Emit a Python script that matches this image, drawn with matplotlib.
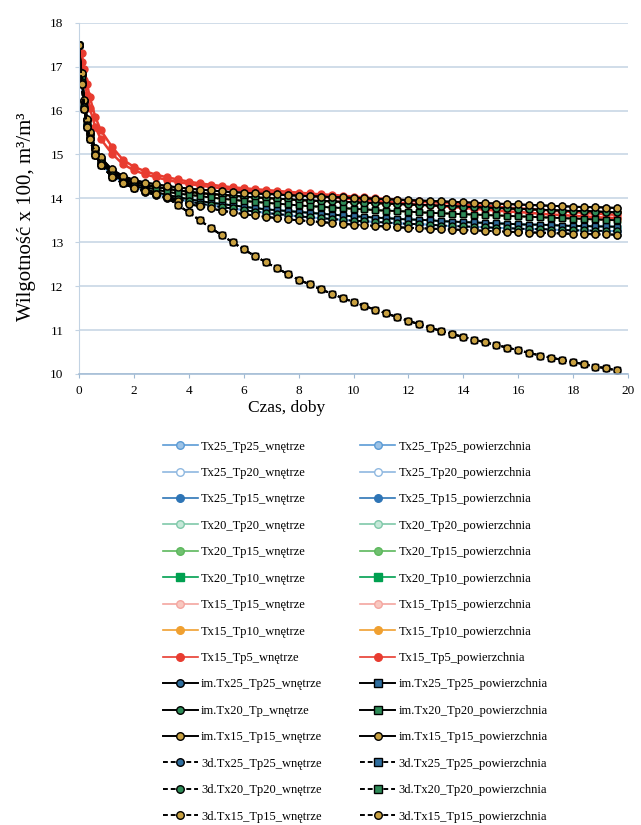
import matplotlib

matplotlib.use("Agg")
import matplotlib.pyplot as plt
from matplotlib.lines import Line2D

plt.rcParams["font.family"] = ["Liberation Serif", "DejaVu Serif"]

# czas, doby
czas = [0, 0.1, 0.2, 0.3, 0.4, 0.6, 0.8, 1.2, 1.6,
        2.0, 2.4, 2.8, 3.2, 3.6, 4.0, 4.4, 4.8, 5.2,
        5.6, 6.0, 6.4, 6.8, 7.2, 7.6, 8.0, 8.4, 8.8,
        9.2, 9.6, 10.0, 10.4, 10.8, 11.2, 11.6, 12.0, 12.4,
        12.8, 13.2, 13.6, 14.0, 14.4, 14.8, 15.2, 15.6, 16.0,
        16.4, 16.8, 17.2, 17.6, 18.0, 18.4, 18.8, 19.2, 19.6]

# wilgotnosc x 100 -- odczytane krzywe
krzywa_tp5 = [17.50, 17.30, 16.95, 16.60, 16.30, 15.85, 15.55, 15.18, 14.88,
              14.72, 14.62, 14.54, 14.48, 14.43, 14.38, 14.34, 14.31, 14.28,
              14.25, 14.23, 14.21, 14.19, 14.17, 14.15, 14.13, 14.11, 14.09,
              14.08, 14.06, 14.04, 14.02, 14.00, 13.99, 13.97, 13.95, 13.93,
              13.91, 13.90, 13.88, 13.86, 13.84, 13.83, 13.81, 13.79, 13.77,
              13.76, 13.74, 13.72, 13.70, 13.69, 13.67, 13.65, 13.64, 13.62]
krzywa_tp5_pow = [17.50, 17.10, 16.70, 16.35, 16.05, 15.62, 15.35, 15.02, 14.78,
                  14.64, 14.55, 14.48, 14.42, 14.37, 14.33, 14.29, 14.26, 14.23,
                  14.20, 14.18, 14.16, 14.14, 14.12, 14.10, 14.08, 14.06, 14.04,
                  14.02, 14.00, 13.98, 13.96, 13.94, 13.92, 13.90, 13.88, 13.86,
                  13.84, 13.82, 13.80, 13.78, 13.76, 13.74, 13.72, 13.70, 13.69,
                  13.67, 13.65, 13.63, 13.62, 13.60, 13.59, 13.57, 13.56, 13.55]
krzywa_gora = [17.50, 16.85, 16.25, 15.80, 15.50, 15.15, 14.93, 14.66, 14.51,
               14.42, 14.36, 14.32, 14.28, 14.25, 14.22, 14.20, 14.18, 14.16,
               14.14, 14.13, 14.11, 14.10, 14.09, 14.07, 14.06, 14.05, 14.04,
               14.03, 14.02, 14.01, 14.00, 13.99, 13.98, 13.97, 13.96, 13.95,
               13.94, 13.93, 13.92, 13.91, 13.90, 13.89, 13.88, 13.87, 13.86,
               13.85, 13.84, 13.83, 13.82, 13.81, 13.80, 13.80, 13.79, 13.78]
krzywa_c = [17.50, 16.80, 16.22, 15.78, 15.47, 15.12, 14.90, 14.62, 14.47,
            14.38, 14.31, 14.26, 14.22, 14.18, 14.15, 14.12, 14.10, 14.08,
            14.06, 14.04, 14.02, 14.01, 13.99, 13.98, 13.96, 13.95, 13.94,
            13.93, 13.92, 13.91, 13.90, 13.89, 13.88, 13.87, 13.86, 13.85,
            13.84, 13.83, 13.82, 13.81, 13.80, 13.79, 13.78, 13.77, 13.76,
            13.75, 13.74, 13.73, 13.72, 13.71, 13.71, 13.70, 13.69, 13.68]
krzywa_d = [17.50, 16.75, 16.18, 15.75, 15.44, 15.09, 14.87, 14.59, 14.44,
            14.34, 14.26, 14.20, 14.15, 14.11, 14.08, 14.05, 14.02, 13.99,
            13.97, 13.94, 13.92, 13.90, 13.88, 13.86, 13.84, 13.82, 13.81,
            13.79, 13.78, 13.76, 13.75, 13.73, 13.72, 13.71, 13.70, 13.68,
            13.67, 13.66, 13.65, 13.64, 13.63, 13.62, 13.61, 13.60, 13.59,
            13.58, 13.57, 13.56, 13.55, 13.54, 13.53, 13.52, 13.51, 13.50]
krzywa_e = [17.50, 16.70, 16.12, 15.70, 15.40, 15.05, 14.83, 14.55, 14.40,
            14.30, 14.21, 14.14, 14.08, 14.03, 13.98, 13.94, 13.90, 13.87,
            13.84, 13.81, 13.78, 13.75, 13.73, 13.71, 13.69, 13.67, 13.65,
            13.63, 13.61, 13.59, 13.58, 13.56, 13.55, 13.53, 13.52, 13.51,
            13.50, 13.48, 13.47, 13.46, 13.45, 13.44, 13.43, 13.42, 13.41,
            13.40, 13.40, 13.39, 13.38, 13.37, 13.37, 13.36, 13.36, 13.35]
krzywa_f = [17.50, 16.65, 16.08, 15.66, 15.37, 15.02, 14.80, 14.52, 14.37,
            14.27, 14.18, 14.10, 14.04, 13.98, 13.93, 13.88, 13.84, 13.80,
            13.77, 13.73, 13.70, 13.67, 13.64, 13.62, 13.59, 13.57, 13.55,
            13.53, 13.51, 13.49, 13.48, 13.46, 13.45, 13.43, 13.42, 13.41,
            13.40, 13.38, 13.37, 13.36, 13.35, 13.34, 13.33, 13.32, 13.31,
            13.30, 13.30, 13.29, 13.28, 13.27, 13.27, 13.26, 13.26, 13.25]
krzywa_dol = [17.50, 16.60, 16.04, 15.62, 15.34, 14.99, 14.77, 14.49, 14.34,
              14.24, 14.15, 14.07, 14.00, 13.94, 13.87, 13.82, 13.77, 13.72,
              13.68, 13.64, 13.61, 13.58, 13.55, 13.52, 13.50, 13.48, 13.46,
              13.44, 13.42, 13.40, 13.39, 13.37, 13.36, 13.34, 13.33, 13.32,
              13.31, 13.30, 13.29, 13.28, 13.27, 13.26, 13.25, 13.24, 13.23,
              13.22, 13.22, 13.21, 13.20, 13.19, 13.19, 13.18, 13.18, 13.17]
krzywa_3d_pow = [17.50, 16.60, 16.04, 15.62, 15.34, 14.99, 14.77, 14.49, 14.34,
                 14.24, 14.16, 14.09, 14.02, 13.85, 13.68, 13.50, 13.33, 13.16,
                 13.00, 12.84, 12.69, 12.55, 12.41, 12.28, 12.15, 12.04, 11.93,
                 11.83, 11.73, 11.64, 11.55, 11.46, 11.38, 11.29, 11.21, 11.13,
                 11.05, 10.98, 10.91, 10.84, 10.78, 10.72, 10.66, 10.60, 10.54,
                 10.48, 10.42, 10.37, 10.32, 10.27, 10.22, 10.17, 10.13, 10.08]

# (etykieta, dane, kolor linii, znacznik, wypelnienie, styl linii)
serie_wnetrze = [
    ("Tx25_Tp25_wnętrze", krzywa_f, "#5b9bd5", "o", "#9dc3e6", "-"),
    ("Tx25_Tp20_wnętrze", krzywa_f, "#8fb8e0", "o", "#ffffff", "-"),
    ("Tx25_Tp15_wnętrze", krzywa_e, "#2e75b6", "o", "#2e75b6", "-"),
    ("Tx20_Tp20_wnętrze", krzywa_e, "#7fc8a9", "o", "#c5e8d8", "-"),
    ("Tx20_Tp15_wnętrze", krzywa_d, "#5cb85c", "o", "#70c070", "-"),
    ("Tx20_Tp10_wnętrze", krzywa_d, "#00a050", "s", "#00a050", "-"),
    ("Tx15_Tp15_wnętrze", krzywa_d, "#f4a6a0", "o", "#f8c8c0", "-"),
    ("Tx15_Tp10_wnętrze", krzywa_c, "#f0a030", "o", "#f0a030", "-"),
    ("Tx15_Tp5_wnętrze", krzywa_tp5, "#e83c30", "o", "#e83c30", "-"),
    ("im.Tx25_Tp25_wnętrze", krzywa_c, "black", "o", "#2f6e9e", "-"),
    ("im.Tx20_Tp_wnętrze", krzywa_c, "black", "o", "#2e8b57", "-"),
    ("im.Tx15_Tp15_wnętrze", krzywa_gora, "black", "o", "#c8a040", "-"),
    ("3d.Tx25_Tp25_wnętrze", krzywa_dol, "black", "o", "#2f6e9e", "--"),
    ("3d.Tx20_Tp20_wnętrze", krzywa_f, "black", "o", "#2e8b57", "--"),
    ("3d.Tx15_Tp15_wnętrze", krzywa_dol, "black", "o", "#c8a040", "--"),
]
serie_powierzchnia = [
    ("Tx25_Tp25_powierzchnia", krzywa_f, "#5b9bd5", "o", "#9dc3e6", "-"),
    ("Tx25_Tp20_powierzchnia", krzywa_e, "#8fb8e0", "o", "#ffffff", "-"),
    ("Tx25_Tp15_powierzchnia", krzywa_e, "#2e75b6", "o", "#2e75b6", "-"),
    ("Tx20_Tp20_powierzchnia", krzywa_e, "#7fc8a9", "o", "#c5e8d8", "-"),
    ("Tx20_Tp15_powierzchnia", krzywa_d, "#5cb85c", "o", "#70c070", "-"),
    ("Tx20_Tp10_powierzchnia", krzywa_d, "#00a050", "s", "#00a050", "-"),
    ("Tx15_Tp15_powierzchnia", krzywa_d, "#f4a6a0", "o", "#f8c8c0", "-"),
    ("Tx15_Tp10_powierzchnia", krzywa_c, "#f0a030", "o", "#f0a030", "-"),
    ("Tx15_Tp5_powierzchnia", krzywa_tp5_pow, "#e83c30", "o", "#e83c30", "-"),
    ("im.Tx25_Tp25_powierzchnia", krzywa_e, "black", "s", "#2f6e9e", "-"),
    ("im.Tx20_Tp20_powierzchnia", krzywa_d, "black", "s", "#2e8b57", "-"),
    ("im.Tx15_Tp15_powierzchnia", krzywa_gora, "black", "o", "#c8a040", "-"),
    ("3d.Tx25_Tp25_powierzchnia", krzywa_3d_pow, "black", "s", "#2f6e9e", "--"),
    ("3d.Tx20_Tp20_powierzchnia", krzywa_3d_pow, "black", "s", "#2e8b57", "--"),
    ("3d.Tx15_Tp15_powierzchnia", krzywa_3d_pow, "black", "o", "#c8a040", "--"),
]


def _styl(kolor, znacznik, wypelnienie, styl, rozmiar=5.0):
    czarna = kolor == "black"
    return dict(
        color=kolor,
        linestyle=(0, (2.5, 1.5)) if styl == "--" else "-",
        linewidth=1.4 if czarna else 1.2,
        marker=znacznik,
        markersize=rozmiar,
        markerfacecolor=wypelnienie,
        markeredgecolor="black" if czarna else kolor,
        markeredgewidth=1.0,
    )


fig = plt.figure(figsize=(6.41, 8.25), dpi=100)
ax = fig.add_axes([0.123, 0.5467, 0.857, 0.4258])

kolorowe = [s for s in serie_wnetrze + serie_powierzchnia if s[2] != "black"]
czarne_im = [s for s in serie_wnetrze + serie_powierzchnia if s[0].startswith("im")]
czarne_3d = [s for s in serie_wnetrze + serie_powierzchnia if s[0].startswith("3d")]
for etykieta, dane, kolor, znacznik, wypelnienie, styl in kolorowe + czarne_im + czarne_3d:
    styl_linii = _styl(kolor, znacznik, wypelnienie, styl)
    if "Tp5_" in etykieta:
        styl_linii["linewidth"] = 1.8
    ax.plot(czas, dane, **styl_linii)

ax.set_xlim(0, 20)
ax.set_ylim(10, 18)
ax.set_xticks(range(0, 21, 2))
ax.set_yticks(range(10, 19))
ax.grid(True, axis="y", color="#c3d3e3", linewidth=1.1)
ax.set_axisbelow(True)
ax.spines["top"].set_visible(False)
ax.spines["right"].set_visible(False)
ax.spines["left"].set_color("#c3d3e3")
ax.spines["bottom"].set_color("#9fb9d3")
ax.spines["bottom"].set_linewidth(1.1)
ax.tick_params(axis="x", length=3, color="#9fb9d3", labelsize=9.5, pad=5)
ax.tick_params(axis="y", length=3, color="#c3d3e3", labelsize=9.5, pad=8)

ax.set_xlabel("Czas, doby", fontsize=12.5)
ax.xaxis.set_label_coords(0.379, -0.075)
ax.set_ylabel("Wilgotność x 100, m³/m³", fontsize=15)
ax.yaxis.set_label_coords(-0.078, 0.447)


def _uchwyty(serie):
    return [Line2D([], [], **_styl(k, z, w, s, 4.2)) for _, _, k, z, w, s in serie]


wspolne = dict(
    loc="upper left", frameon=False, fontsize=9, handlelength=2.8,
    handletextpad=0.25, labelspacing=1.155, borderpad=0, borderaxespad=0,
    markerscale=1.3,
)
fig.legend(_uchwyty(serie_wnetrze), [s[0] for s in serie_wnetrze],
           bbox_to_anchor=(0.254, 0.466), **wspolne)
fig.legend(_uchwyty(serie_powierzchnia), [s[0] for s in serie_powierzchnia],
           bbox_to_anchor=(0.562, 0.466), **wspolne)

fig.savefig("out.png", dpi=100)
plt.close(fig)
